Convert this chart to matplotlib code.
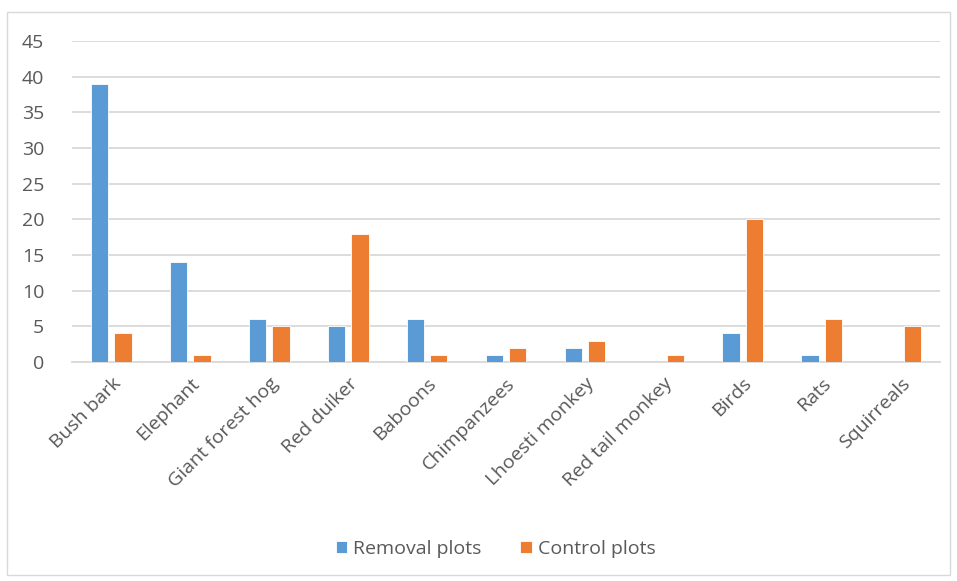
import numpy as np
import matplotlib.pyplot as plt
from matplotlib.patches import Rectangle

categories = ["Bush bark", "Elephant", "Giant forest hog", "Red duiker", "Baboons",
              "Chimpanzees", "Lhoesti monkey", "Red tail monkey", "Birds", "Rats", "Squirreals"]
removal = [39, 14, 6, 5, 6, 1, 2, 0, 4, 1, 0]
control = [4, 1, 5, 18, 1, 2, 3, 1, 20, 6, 5]

BLUE = "#5B9BD5"
ORANGE = "#ED7D31"
TXT = "#595959"

plt.rcParams['font.family'] = ['Open Sans', 'DejaVu Sans']

fig = plt.figure(figsize=(9.57, 5.81), dpi=100)
W, H = 957, 581
ax = fig.add_axes([72 / W, 1 - 362 / H, (940 - 72) / W, (362 - 41) / H])

# outer chart border
fig.patches.append(Rectangle((7 / W, 6 / H), (950 - 7) / W, (569 - 6) / H,
                             transform=fig.transFigure, fill=False,
                             edgecolor="#D9D9D9", linewidth=1))

x = np.arange(len(categories))
bw = 0.22
gap = 0.075
ax.bar(x - (bw + gap) / 2, removal, bw, color=BLUE, edgecolor="white", linewidth=0.6,
       label="Removal plots", zorder=3)
ax.bar(x + (bw + gap) / 2, control, bw, color=ORANGE, edgecolor="white", linewidth=0.6,
       label="Control plots", zorder=3)

ax.set_xlim(-0.5, len(categories) - 0.5)
ax.set_ylim(0, 45)
ax.set_yticks(range(0, 46, 5))
ax.yaxis.grid(True, color="#D9D9D9", linewidth=1.3, zorder=0)
ax.set_axisbelow(True)
for s in ["top", "right", "left"]:
    ax.spines[s].set_visible(False)
ax.spines["bottom"].set_color("#D9D9D9")
ax.spines["bottom"].set_linewidth(1.3)
ax.tick_params(axis="both", length=0, colors=TXT, labelsize=14)
ax.tick_params(axis="y", pad=20)

ax.set_xticks(x)
ax.set_xticklabels(categories, rotation=45, ha="right", rotation_mode="anchor")
ax.tick_params(axis="x", pad=9)

leg = fig.legend(loc="center", bbox_to_anchor=(0.518, 1 - 549 / H), ncol=2, frameon=False,
                 fontsize=14, handlelength=0.6, handleheight=0.6, columnspacing=2.0,
                 handletextpad=0.3)
for t in leg.get_texts():
    t.set_color(TXT)

fig.savefig("out.png", dpi=100)
